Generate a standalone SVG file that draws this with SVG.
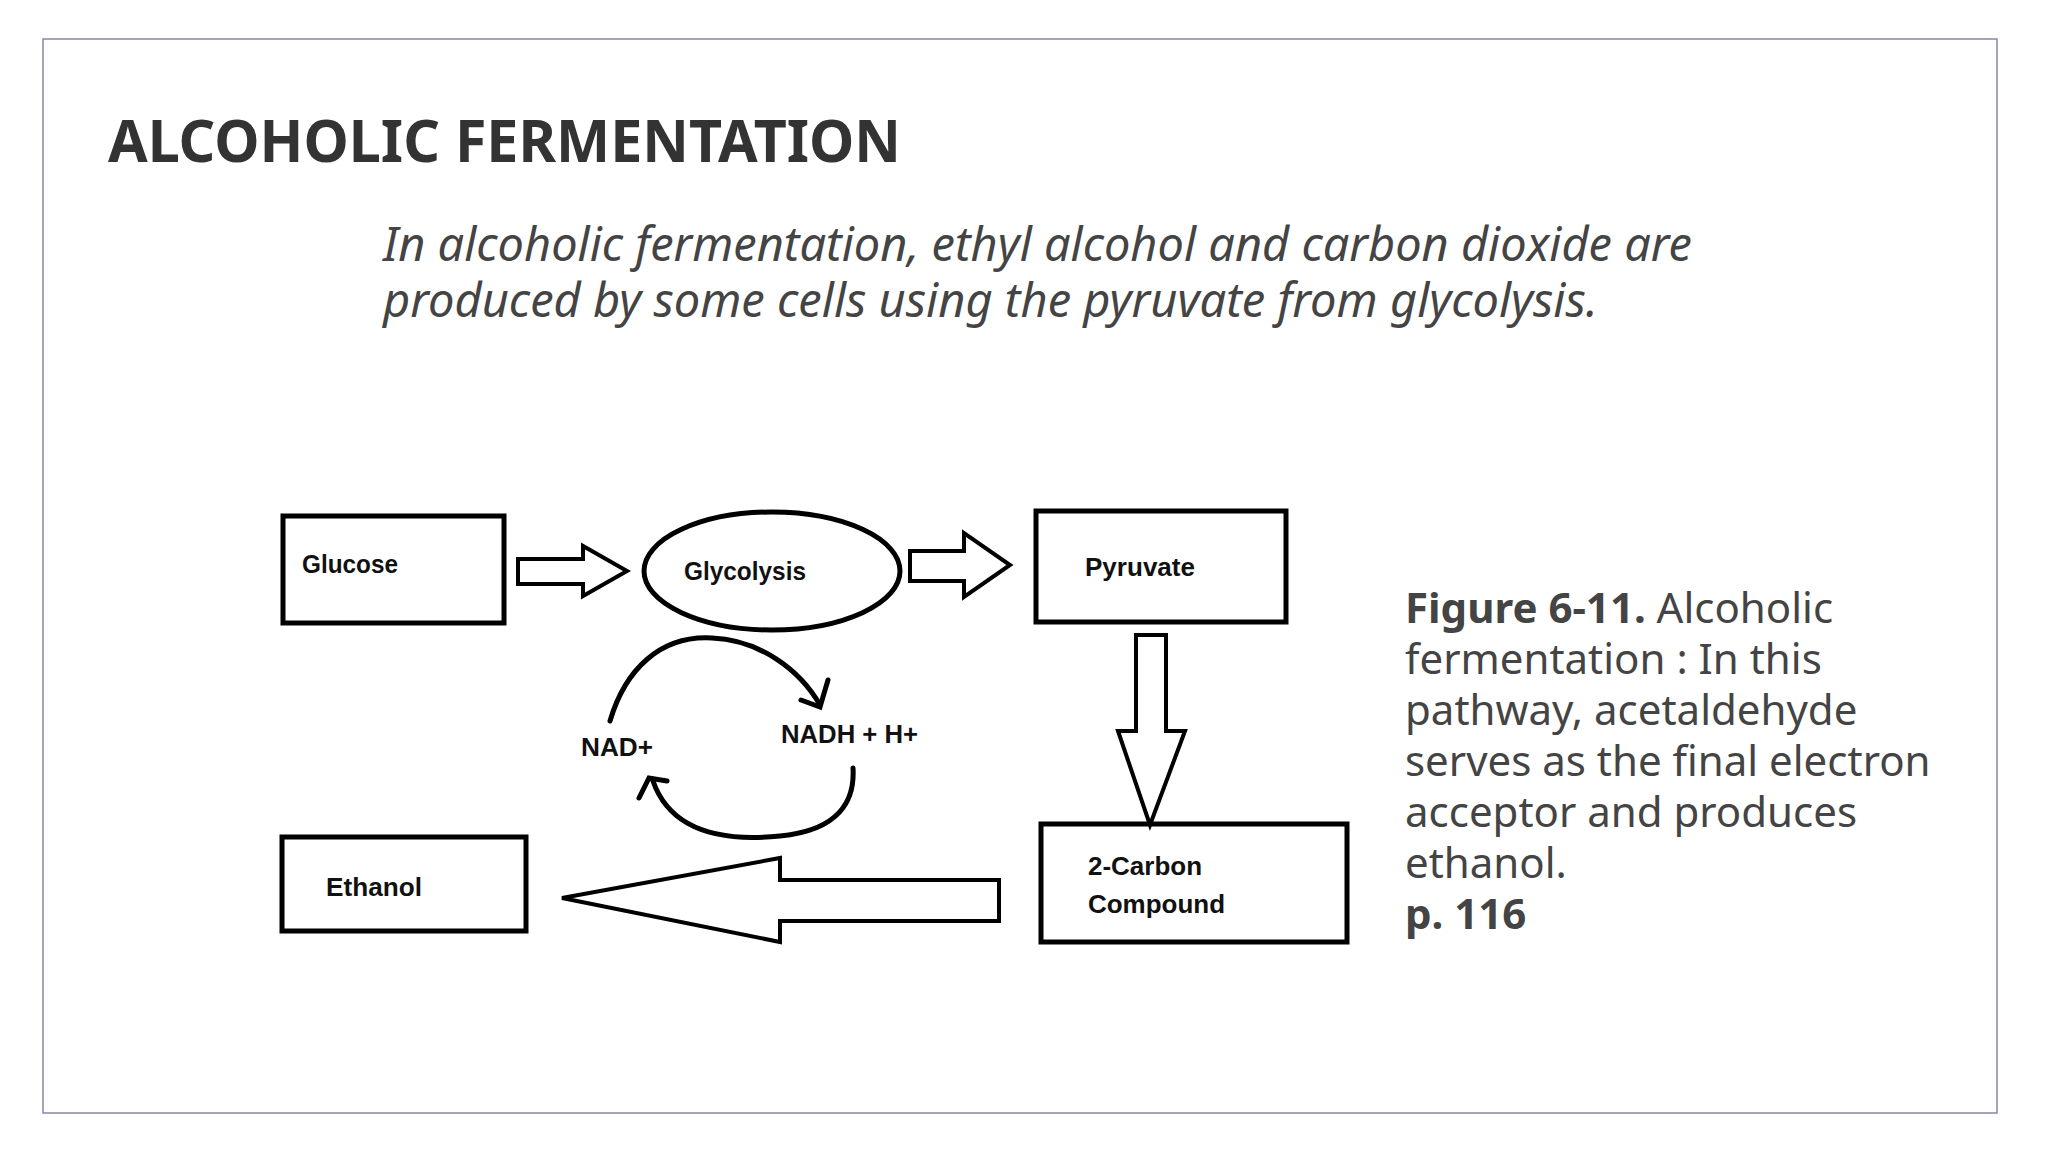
<svg xmlns="http://www.w3.org/2000/svg" width="2048" height="1152" viewBox="0 0 2048 1152">
<style>
.box{fill:#fff;stroke:#000;stroke-width:5}
.arr{fill:#fff;stroke:#000;stroke-width:4;stroke-linejoin:miter}
.lbl{font-family:"Liberation Sans",sans-serif;font-weight:bold;font-size:25px;fill:#111}
.cap{font-family:"Noto Sans","Open Sans",sans-serif;font-size:42px;fill:#444}
.curve{fill:none;stroke:#000;stroke-width:5;stroke-linecap:round}
</style>
<rect x="0" y="0" width="2048" height="1152" fill="#fff"/>
<rect x="43" y="39" width="1954" height="1074" fill="none" stroke="#8a86a8" stroke-width="1.5"/>
<text x="108" y="162" font-family="Noto Sans,sans-serif" font-weight="bold" font-size="60" fill="#333" textLength="793" lengthAdjust="spacingAndGlyphs">ALCOHOLIC FERMENTATION</text>
<g font-family="Noto Sans,sans-serif" font-style="italic" font-size="47" fill="#444">
<text x="383" y="261" textLength="1309" lengthAdjust="spacingAndGlyphs">In alcoholic fermentation, ethyl alcohol and carbon dioxide are</text>
<text x="383" y="317">produced by some cells using the pyruvate from glycolysis.</text>
</g>
<g id="glucose"><rect class="box" x="283" y="516" width="221" height="107"/><text class="lbl" x="302" y="573" textLength="96" lengthAdjust="spacingAndGlyphs">Glucose</text></g>
<g id="glycolysis"><ellipse cx="772" cy="571" rx="128" ry="59" fill="#fff" stroke="#000" stroke-width="5"/><text class="lbl" x="684" y="580" textLength="122" lengthAdjust="spacingAndGlyphs">Glycolysis</text></g>
<g id="pyruvate"><rect class="box" x="1036" y="511" width="250" height="111"/><text class="lbl" x="1085" y="576" textLength="110" lengthAdjust="spacingAndGlyphs">Pyruvate</text></g>
<g id="carbon"><rect class="box" x="1041" y="824" width="306" height="118"/><text class="lbl" x="1088" y="875" textLength="114" lengthAdjust="spacingAndGlyphs">2-Carbon</text><text class="lbl" x="1088" y="913" textLength="137" lengthAdjust="spacingAndGlyphs">Compound</text></g>
<g id="ethanol"><rect class="box" x="282" y="837" width="244" height="94"/><text class="lbl" x="326" y="896" textLength="96" lengthAdjust="spacingAndGlyphs">Ethanol</text></g>
<g id="nad"><text class="lbl" x="581" y="756" textLength="72" lengthAdjust="spacingAndGlyphs">NAD+</text></g>
<g id="nadh"><text class="lbl" x="781" y="743" textLength="137" lengthAdjust="spacingAndGlyphs">NADH + H+</text></g>
<g id="connectors">
<polygon class="arr" points="518,559 583,559 583,546 627,571 583,596 583,584 518,584"/>
<polygon class="arr" points="910,551 964,551 964,533 1010,565 964,597 964,581 910,581"/>
<polygon class="arr" points="1136,635 1166,635 1166,731 1185,731 1150,825 1118,731 1136,731"/>
<polygon class="arr" points="999,880 780,880 780,858 562,898 780,942 780,921 999,921"/>
<path class="curve" d="M610,721 C625,670 660,635 712,638 C760,640 800,670 820,705"/>
<path class="curve" d="M801,700 L820,707 L828,680"/>
<path class="curve" d="M853,768 C855,800 840,830 780,836 C720,842 670,830 653,781"/>
<path class="curve" d="M639,798 L649,778 L667,781"/>
</g>
<g class="cap">
<text x="1405" y="623"><tspan font-weight="bold">Figure 6-11.</tspan> Alcoholic</text>
<text x="1405" y="674">fermentation : In this</text>
<text x="1405" y="725">pathway, acetaldehyde</text>
<text x="1405" y="776">serves as the final electron</text>
<text x="1405" y="827">acceptor and produces</text>
<text x="1405" y="878">ethanol.</text>
<text x="1405" y="929" font-weight="bold">p. 116</text>
</g>
</svg>
